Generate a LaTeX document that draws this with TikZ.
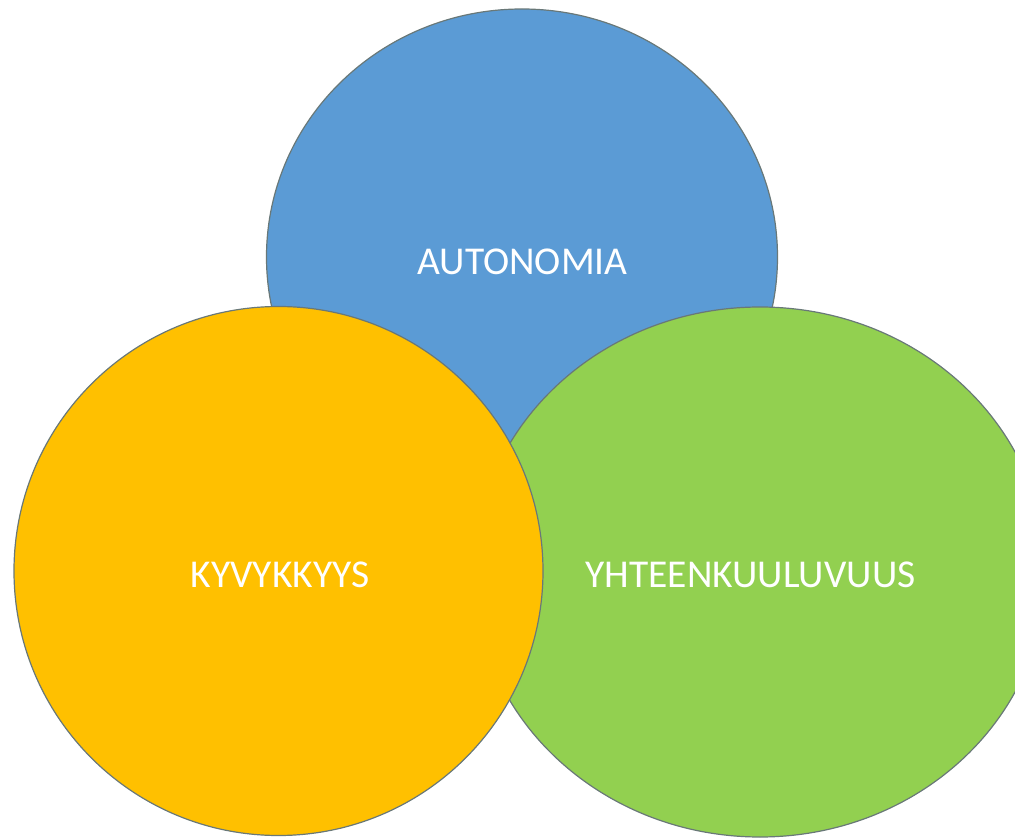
\documentclass[tikz,border=0pt]{standalone}
\usepackage{fontspec}
\setmainfont{Carlito}
\definecolor{autoblue}{RGB}{91,155,213}
\definecolor{kyvyellow}{RGB}{255,192,0}
\definecolor{yhtgreen}{RGB}{146,208,80}
\definecolor{rimgray}{RGB}{105,120,120}
\begin{document}
\begin{tikzpicture}[x=0.75pt,y=0.75pt,yscale=-1,xscale=1,
  rim/.style={draw=rimgray,line width=0.9pt},
  lbl/.style={text=white,inner sep=0pt,font=\fontsize{29.6}{34}\selectfont}]
\path[use as bounding box] (0,0) rectangle (1015,838);

%Shape: Ellipse [id:autonomia]
\draw[rim,fill=autoblue] (522,257) ellipse [x radius=255.5,y radius=248];
%Shape: Ellipse [id:yhteenkuuluvuus]
\draw[rim,fill=yhtgreen] (760,572) ellipse [x radius=286,y radius=265];
%Shape: Circle [id:kyvykkyys]
\draw[rim,fill=kyvyellow] (278.5,571) circle [radius=264.5];

% Text Node
\node[lbl] (autonomia) at (522.5,262) {AUTONOMIA};
% Text Node
\node[lbl] (kyvykkyys) at (280,574.5) {KYVYKKYYS};
% Text Node
\node[lbl] (yhteenkuuluvuus) at (750.5,574.5) {YHTEENKUULUVUUS};

\end{tikzpicture}
\end{document}
